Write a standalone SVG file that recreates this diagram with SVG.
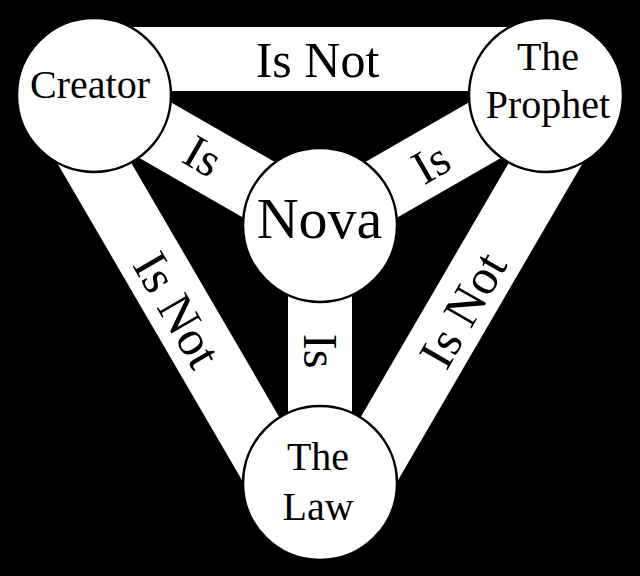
<svg xmlns="http://www.w3.org/2000/svg" width="640" height="576" viewBox="0 0 640 576">
<style>
.band{fill:#fff;stroke:none}
.node{fill:#fff;stroke:#000;stroke-width:2.5}
text{font-family:"Liberation Serif","Times New Roman",serif;fill:#000;text-anchor:middle}
.nl{font-size:40px}
.bl{font-size:50px}
.il{font-size:48px}
</style>
<rect x="0" y="0" width="640" height="576" fill="#000"/>
<g id="connectors">
<rect class="band" x="94" y="27" width="452" height="64"/>
<polygon class="band" points="92.27,96.01 36.97,128.22 262.97,516.22 318.27,484.01"/>
<polygon class="band" points="547.73,96.01 603.03,128.22 377.03,516.22 321.73,484.01"/>
<polygon class="band" points="335.96,197.26 109.96,67.26 78.04,122.74 304.04,252.74"/>
<polygon class="band" points="304.04,197.26 530.04,67.26 561.96,122.74 335.96,252.74"/>
<rect class="band" x="288" y="225" width="64" height="258"/>
<text class="bl" x="317.5" y="77">Is Not</text>
<text class="bl" transform="translate(177,310) rotate(60)" x="0" y="16.5">Is Not</text>
<text class="bl" transform="translate(463,310) rotate(-60)" x="0" y="16.5">Is Not</text>
<text class="il" transform="translate(203,156) rotate(30)" x="0" y="16">Is</text>
<text class="il" transform="translate(431,163) rotate(-30)" x="0" y="16">Is</text>
<text class="il" transform="translate(320,351) rotate(90)" x="0" y="16">Is</text>
</g>
<g id="creator">
<circle class="node" cx="94" cy="95" r="77"/>
<text class="nl" x="90" y="98">Creator</text>
</g>
<g id="prophet">
<circle class="node" cx="546" cy="95" r="77"/>
<text class="nl" x="548" y="70">The</text>
<text class="nl" x="548" y="118">Prophet</text>
</g>
<g id="nova">
<circle class="node" cx="320" cy="225" r="77"/>
<text x="319.5" y="238" style="font-size:58px">Nova</text>
</g>
<g id="law">
<circle class="node" cx="320" cy="483" r="77"/>
<text class="nl" x="318" y="470">The</text>
<text class="nl" x="318" y="520">Law</text>
</g>
</svg>
